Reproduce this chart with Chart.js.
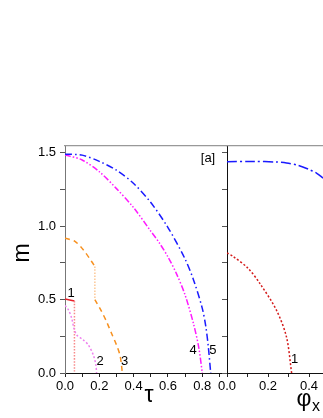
<!DOCTYPE html>
<html>
<head>
<meta charset="utf-8">
<script src="https://cdn.jsdelivr.net/npm/chart.js@4"></script>
<style>
  body { margin: 0; background: #fff; }
  #wrap { position: relative; width: 323px; height: 418px; overflow: hidden; }
  canvas { position: absolute; top: 0; }
  #chart1 { left: 0; }
  #chart2 { left: 200px; }
</style>
</head>
<body>
<div id="wrap">
  <canvas id="chart1" width="240" height="418"></canvas>
  <canvas id="chart2" width="123" height="418"></canvas>
</div>
<script>
// panel [a], m against tau
const tau1 = [0, 0.055];
const m1 = [0.503, 0.49];
const tau1drop = [0.055, 0.055];
const m1drop = [0.49, 0];

const tau2 = [0, 0.02, 0.039, 0.052, 0.068, 0.106, 0.136, 0.165, 0.18, 0.184];
const m2 = [0.459, 0.43, 0.373, 0.305, 0.259, 0.225, 0.191, 0.123, 0.055, 0];

const tau3top = [0, 0.058, 0.107, 0.155, 0.174];
const m3top = [0.918, 0.896, 0.838, 0.759, 0.725];
const tau3drop = [0.174, 0.174];
const m3drop = [0.725, 0.5];
const tau3low = [0.174, 0.213, 0.242, 0.271, 0.3, 0.32, 0.329, 0.334];
const m3low = [0.5, 0.419, 0.35, 0.27, 0.191, 0.123, 0.055, 0];

const tau4 = [0, 0.1, 0.2, 0.3, 0.4, 0.5, 0.55, 0.6, 0.65, 0.7, 0.75, 0.78, 0.8];
const m4 = [1.484, 1.45, 1.37, 1.255, 1.125, 0.965, 0.885, 0.79, 0.675, 0.53, 0.33, 0.17, 0];

const tau5 = [0, 0.1, 0.2, 0.3, 0.4, 0.5, 0.6, 0.7, 0.75, 0.8, 0.82, 0.835, 0.849];
const m5 = [1.489, 1.483, 1.44, 1.38, 1.29, 1.16, 0.99, 0.775, 0.63, 0.44, 0.32, 0.18, 0];

// right panel, m against phi_x
const phiBlue = [0, 0.127, 0.24, 0.29, 0.346, 0.395, 0.436, 0.468];
const mBlue = [1.438, 1.44, 1.436, 1.43, 1.413, 1.388, 1.361, 1.327];
const phiRed = [0, 0.029, 0.102, 0.16, 0.241, 0.29, 0.315];
const mRed = [0.818, 0.794, 0.714, 0.61, 0.428, 0.245, 0];

// curve numbers
const labelText = ['1', '2', '3', '4', '5'];
const labelTau = [0.036, 0.204, 0.348, 0.747, 0.862];
const labelM = [0.54, 0.081, 0.081, 0.157, 0.157];
const labelRightText = ['1'];
const labelRightPhi = [0.33];
const labelRightM = [0.095];

const tauTicks = [0, 0.1, 0.2, 0.3, 0.4, 0.5, 0.6, 0.7, 0.8, 0.9];
const phiTicks = [0, 0.1, 0.2, 0.3, 0.4];
const mTicks = [0, 0.25, 0.5, 0.75, 1, 1.25, 1.5];

const FONT = '"Liberation Sans", Arial, sans-serif';

function line(xs, ys, color, dash, width) {
  return {
    data: xs.map((x, i) => ({ x: x, y: ys[i] })),
    showLine: true,
    borderColor: color,
    borderDash: dash,
    borderWidth: width || 1.5,
    pointRadius: 0,
    tension: 0.3,
    fill: false
  };
}

function yAxis(w, showLabels, borderColor) {
  return {
    type: 'linear', min: 0, max: 1.545,
    afterBuildTicks: s => { s.ticks = mTicks.map(v => ({ value: v })); },
    afterFit: s => { s.width = w; },
    ticks: {
      callback: v => (showLabels && Math.round(v * 4) % 2 === 0) ? v.toFixed(1) : '',
      font: { family: FONT, size: 13 }, color: '#000', padding: 4
    },
    grid: { drawOnChartArea: false, tickLength: 5, color: '#555' },
    border: { color: borderColor, width: 1 }
  };
}

function xAxis(max, tickList) {
  return {
    type: 'linear', min: 0, max: max,
    afterBuildTicks: s => { s.ticks = tickList.map(v => ({ value: v })); },
    afterFit: s => { s.height = 45; },
    ticks: {
      callback: v => Math.round(v * 10) % 2 === 0 ? v.toFixed(1) : '',
      font: { family: FONT, size: 13 }, color: '#000', padding: 2,
      maxRotation: 0, autoSkip: false
    },
    grid: { drawOnChartArea: false, tickLength: 4, color: '#222' },
    border: { color: '#111', width: 1 }
  };
}

const topAxis = {
  type: 'linear', position: 'top', display: true,
  afterFit: s => { s.height = 0; },
  ticks: { display: false },
  grid: { drawOnChartArea: false, drawTicks: false },
  border: { color: '#999', width: 1.2 }
};

const textPlugin = {
  id: 'texts',
  afterDraw(chart, args, opts) {
    const ctx = chart.ctx;
    const xs = chart.scales.x, ys = chart.scales.y;
    ctx.save();
    ctx.fillStyle = '#000';
    ctx.textAlign = 'center';
    ctx.textBaseline = 'middle';
    ctx.font = '13px ' + FONT;
    opts.text.forEach((t, i) => {
      ctx.fillText(t, xs.getPixelForValue(opts.xv[i]), ys.getPixelForValue(opts.yv[i]));
    });
    if (opts.extra) opts.extra(ctx);
    ctx.restore();
  }
};

new Chart(document.getElementById('chart1'), {
  type: 'scatter',
  data: {
    datasets: [
      line(tau5, m5, '#1a1aff', [7, 3, 1.5, 3]),
      line(tau4, m4, '#ff1aff', [6, 2, 1.5, 2, 1.5, 2]),
      line(tau3top, m3top, '#f7901e', [5, 4]),
      line(tau3drop, m3drop, '#fcc896', [1.5, 1.5]),
      line(tau3low, m3low, '#f7901e', [5, 4]),
      line(tau2, m2, '#ee82ee', [2, 2]),
      line(tau1drop, m1drop, '#f88a8a', [1.5, 1.5]),
      line(tau1, m1, '#e8202a', [])
    ]
  },
  options: {
    responsive: false,
    animation: false,
    layout: { padding: { top: 146, right: 13, left: 0, bottom: 0 } },
    plugins: {
      legend: { display: false },
      tooltip: { enabled: false },
      texts: {
        text: labelText, xv: labelTau, yv: labelM,
        extra: ctx => {
          ctx.font = '13px ' + FONT;
          ctx.fillText('[a]', 208, 158);
          ctx.font = '23px ' + FONT;
          ctx.fillText('\u03c4', 149, 396);
          ctx.save();
          ctx.translate(22.5, 253);
          ctx.rotate(-Math.PI / 2);
          ctx.fillText('m', 0, 0);
          ctx.restore();
        }
      }
    },
    scales: {
      x: xAxis(0.944, tauTicks),
      y: yAxis(65, true, '#777'),
      top: topAxis
    }
  },
  plugins: [textPlugin]
});

new Chart(document.getElementById('chart2'), {
  type: 'scatter',
  data: {
    datasets: [
      line(phiBlue, mBlue, '#1a1aff', [10, 3, 2, 3]),
      line(phiRed, mRed, '#d41a1a', [2, 2])
    ]
  },
  options: {
    responsive: false,
    animation: false,
    layout: { padding: { top: 146, right: 0, left: 0, bottom: 0 } },
    plugins: {
      legend: { display: false },
      tooltip: { enabled: false },
      texts: {
        text: labelRightText, xv: labelRightPhi, yv: labelRightM,
        extra: ctx => {
          ctx.font = '23px ' + FONT;
          ctx.fillText('\u03c6', 104, 400);
          ctx.font = '16px ' + FONT;
          ctx.fillText('x', 116, 407);
        }
      }
    },
    scales: {
      x: xAxis(0.468, phiTicks),
      y: yAxis(27, false, '#111'),
      top: topAxis
    }
  },
  plugins: [textPlugin]
});
</script>
</body>
</html>
